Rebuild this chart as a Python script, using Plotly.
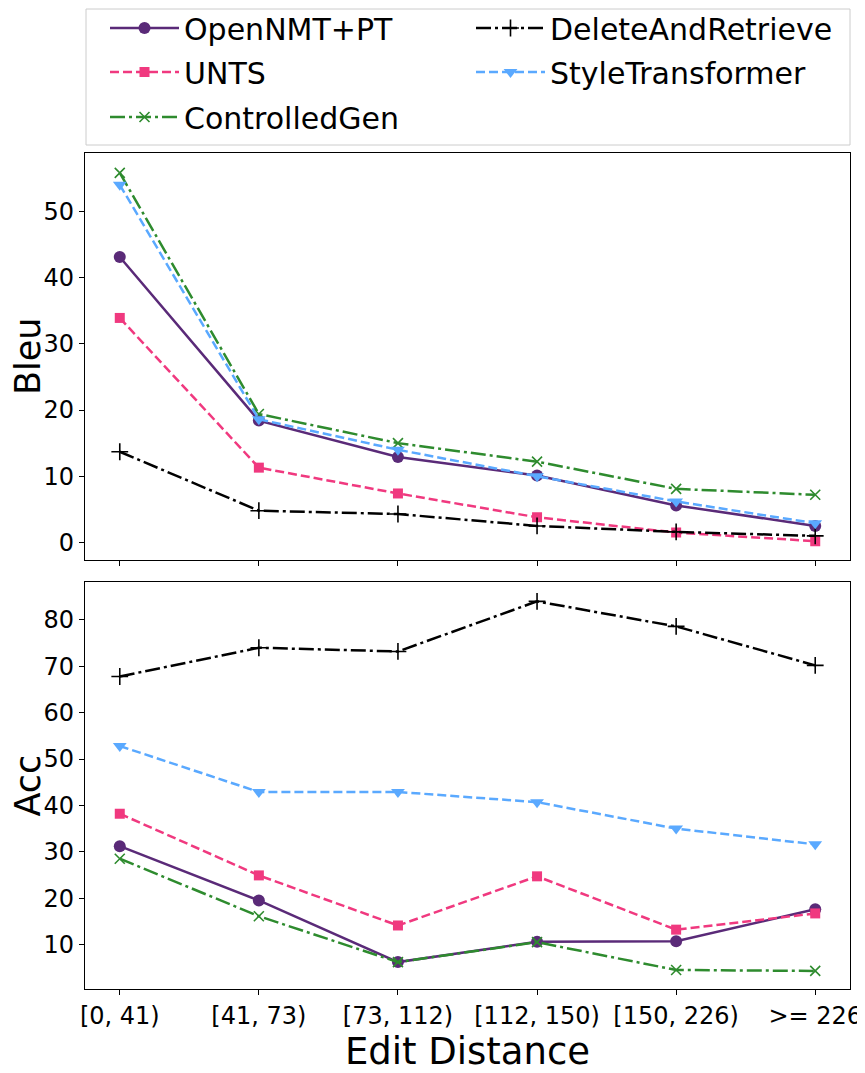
import plotly.graph_objects as go
from plotly.subplots import make_subplots

categories = ["[0, 41)", "[41, 73)", "[73, 112)", "[112, 150)", "[150, 226)", ">= 226"]

names = ["OpenNMT+PT", "UNTS", "ControlledGen", "DeleteAndRetrieve", "StyleTransformer"]

bleu_opennmt = [43.1, 18.4, 12.9, 10.1, 5.6, 2.5]
bleu_unts = [33.9, 11.3, 7.4, 3.8, 1.5, 0.2]
bleu_controlled = [55.8, 19.4, 15.0, 12.2, 8.1, 7.2]
bleu_dar = [13.7, 4.8, 4.3, 2.5, 1.6, 1.0]
bleu_st = [54.0, 18.6, 14.0, 10.0, 6.2, 2.9]

acc_opennmt = [31.2, 19.5, 6.2, 10.6, 10.7, 17.6]
acc_unts = [38.2, 24.9, 14.1, 24.7, 13.2, 16.7]
acc_controlled = [28.5, 16.1, 6.2, 10.5, 4.5, 4.3]
acc_dar = [67.8, 74.0, 73.2, 84.0, 78.6, 70.2]
acc_st = [52.8, 42.9, 42.9, 40.7, 35.0, 31.6]

bleu_ticks = [0, 10, 20, 30, 40, 50]
acc_ticks = [10, 20, 30, 40, 50, 60, 70, 80]

FONT = "DejaVu Sans"
W, H = 865.0, 1073.0
OFF = 8.0  # page body margin offset

# legend slot: (legend id, legend-left x px on screen, row centre y px on screen)
styles = {
    "OpenNMT+PT": dict(color="#5a2a78", dash="solid", symbol="circle", size=12, legend="legend", lx=105, ly=28),
    "UNTS": dict(color="#f0397f", dash="9px,4px", symbol="square", size=10, legend="legend2", lx=105, ly=72),
    "ControlledGen": dict(color="#2e8b2e", dash="15px,4px,3px,4px", symbol="x-thin", size=10, legend="legend3", lx=105, ly=117),
    "DeleteAndRetrieve": dict(color="#000000", dash="15px,4px,3px,4px", symbol="cross-thin", size=12, legend="legend4", lx=471, ly=28),
    "StyleTransformer": dict(color="#5aa9ff", dash="9px,4px", symbol="triangle-down", size=12, legend="legend5", lx=471, ly=72),
}

bleu = {
    "OpenNMT+PT": bleu_opennmt,
    "UNTS": bleu_unts,
    "ControlledGen": bleu_controlled,
    "DeleteAndRetrieve": bleu_dar,
    "StyleTransformer": bleu_st,
}
acc = {
    "OpenNMT+PT": acc_opennmt,
    "UNTS": acc_unts,
    "ControlledGen": acc_controlled,
    "DeleteAndRetrieve": acc_dar,
    "StyleTransformer": acc_st,
}

fig = make_subplots(rows=2, cols=1, shared_xaxes=True, vertical_spacing=0.027)

for row, data in ((1, bleu), (2, acc)):
    for name in names:
        s = styles[name]
        thin = s["symbol"] in ("x-thin", "cross-thin")
        fig.add_trace(
            go.Scatter(
                x=categories,
                y=data[name],
                mode="lines+markers",
                name=name,
                legend=s["legend"],
                showlegend=(row == 1),
                line=dict(color=s["color"], width=2.5, dash=s["dash"]),
                marker=dict(
                    symbol=s["symbol"],
                    size=s["size"],
                    color=s["color"],
                    line=dict(color=s["color"], width=1.6 if thin else 0),
                ),
            ),
            row=row,
            col=1,
        )

axis_common = dict(
    showline=True,
    linecolor="black",
    linewidth=1.2,
    mirror=True,
    ticks="outside",
    ticklen=5,
    tickwidth=1,
    tickcolor="black",
    showgrid=False,
    zeroline=False,
    tickfont=dict(family=FONT, size=24, color="black"),
)

fig.update_xaxes(axis_common)
fig.update_yaxes(axis_common)

fig.update_xaxes(type="category", range=[-0.25, 5.25], row=1, col=1, showticklabels=False)
fig.update_xaxes(
    type="category",
    range=[-0.25, 5.25],
    row=2,
    col=1,
    title=dict(text="Edit Distance", font=dict(family=FONT, size=37, color="black"), standoff=0),
)
fig.update_yaxes(
    range=[-2.6, 58.8],
    tickvals=bleu_ticks,
    row=1,
    col=1,
    title=dict(text="Bleu", font=dict(family=FONT, size=35, color="black"), standoff=4),
)
fig.update_yaxes(
    range=[0.4, 88.1],
    tickvals=acc_ticks,
    row=2,
    col=1,
    title=dict(text="Acc", font=dict(family=FONT, size=35, color="black"), standoff=4),
)

fig.update_layout(
    yaxis=dict(domain=[0.5135, 1.0]),
    yaxis2=dict(domain=[0.0, 0.4864]),
)

legends = {}
for name in names:
    s = styles[name]
    legends[s["legend"]] = dict(
        orientation="h",
        xref="container",
        yref="container",
        x=(s["lx"] - OFF) / W,
        y=1 - (s["ly"] - OFF) / H,
        xanchor="left",
        yanchor="middle",
        itemwidth=69,
        bgcolor="rgba(0,0,0,0)",
        borderwidth=0,
        font=dict(family=FONT, size=30, color="black"),
    )

ML, MR, MT, MB = 77, 23, 145, 92
H_PLOT = H - MT - MB
W_PLOT = W - ML - MR


def ypaper(screen_px):
    return 1 + (MT - (screen_px - OFF)) / H_PLOT


def xpaper(screen_px):
    return ((screen_px - OFF) - ML) / W_PLOT


fig.update_layout(
    width=W,
    height=H,
    margin=dict(l=ML, r=MR, t=MT, b=MB, autoexpand=False),
    paper_bgcolor="white",
    plot_bgcolor="white",
    font=dict(family=FONT, color="black"),
    shapes=[
        dict(
            type="rect",
            xref="paper",
            yref="paper",
            x0=xpaper(86),
            x1=xpaper(850),
            y0=ypaper(145),
            y1=ypaper(9),
            line=dict(color="#cccccc", width=1),
            fillcolor="rgba(0,0,0,0)",
        )
    ],
    **legends,
)

fig.write_html("out.html")
